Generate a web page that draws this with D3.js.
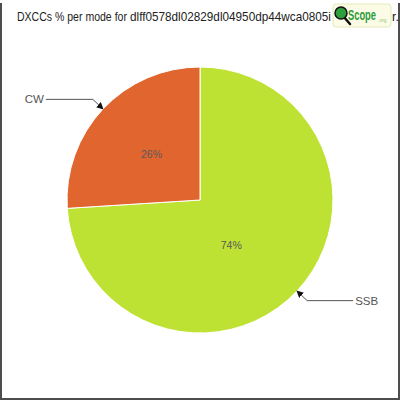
<!DOCTYPE html>
<html>
<head>
<meta charset="utf-8">
<script src="https://cdn.jsdelivr.net/npm/d3@7"></script>
<style>
  html, body { margin: 0; padding: 0; background: #fff; }
  svg { display: block; }
</style>
</head>
<body>
<div id="chart"></div>
<script>
// chart data
const categories = ["SSB", "CW"];
const values = [74, 26];
const colors = ["#bee233", "#e1652f"];
const titleStart = "DXCCs % per mode for";
const titleId = "dlff0578dl02829dl04950dp44wca0805i";
const titleTail = "r.";

const width = 400, height = 400;
const cx = 200, cy = 200, radius = 133;
const font = "'Liberation Sans', 'DejaVu Sans', sans-serif";

const svg = d3.select('#chart').append('svg')
  .attr('width', width)
  .attr('height', height);

svg.append('defs').append('marker')
  .attr('id', 'arrow')
  .attr('viewBox', '0 0 10 10')
  .attr('refX', 9).attr('refY', 5)
  .attr('markerWidth', 7).attr('markerHeight', 7)
  .attr('orient', 'auto')
  .append('path')
  .attr('d', 'M0,0 L10,5 L0,10 z')
  .attr('fill', '#111');

// frame (top edge is cut off in the original)
svg.append('path')
  .attr('d', 'M1,3 L1,399 L399,399 L399,3')
  .attr('fill', 'none')
  .attr('stroke', '#4d4d4d')
  .attr('stroke-width', 2);

// squeeze a text horizontally so it fits a given width
function fitText(sel, x, y, w) {
  const natural = sel.node().getComputedTextLength();
  const k = w && natural > w ? w / natural : 1;
  sel.attr('transform', `translate(${x},${y}) scale(${k},1)`);
}

// title, in pieces so it can pass under the logo like the original
const titleParts = [
  { text: titleStart, x: 17, len: 110 },
  { text: titleId, x: 130, len: 201 },
  { text: titleTail, x: 392, len: null }
];
titleParts.forEach(p => {
  const el = svg.append('text')
    .attr('font-family', font)
    .attr('font-size', 12.5)
    .attr('fill', '#222')
    .text(p.text);
  fitText(el, p.x, 21, p.len);
});

const data = categories.map((c, i) => ({ name: c, value: values[i], color: colors[i] }));

const pie = d3.pie().sort(null).value(d => d.value);
const arcs = pie(data);
const arc = d3.arc().innerRadius(0).outerRadius(radius);
const labelArc = d3.arc().innerRadius(0).outerRadius(radius);

const g = svg.append('g').attr('transform', `translate(${cx},${cy})`);

g.selectAll('path.slice')
  .data(arcs)
  .enter().append('path')
  .attr('class', 'slice')
  .attr('d', arc)
  .attr('fill', d => d.data.color)
  .attr('stroke', '#fff')
  .attr('stroke-width', 1);

const total = d3.sum(values);

g.selectAll('text.pct')
  .data(arcs)
  .enter().append('text')
  .attr('class', 'pct')
  .attr('transform', d => {
    const c = labelArc.centroid(d);
    // the big slice's label sits a bit closer to the centre
    const k = d.data.value > 50 ? 0.85 : 1;
    return `translate(${c[0] * k - (k < 1 ? 10 : 0)},${c[1]})`;
  })
  .attr('text-anchor', 'middle')
  .attr('dy', '0.35em')
  .attr('font-family', font)
  .attr('font-size', 10.5)
  .attr('fill', '#5a5a5a')
  .text(d => Math.round(d.data.value / total * 100) + '%');

// callouts
arcs.forEach(d => {
  const mid = (d.startAngle + d.endAngle) / 2;
  const sx = Math.sin(mid), sy = -Math.cos(mid);
  const tip = [radius * sx, radius * sy];
  const elbow = [(radius + 14) * sx, (radius + 14) * sy];
  const right = sx > 0;
  const end = [elbow[0] + (right ? 46 : -47), elbow[1]];

  g.append('path')
    .attr('d', `M${end[0]},${end[1]} L${elbow[0]},${elbow[1]} L${tip[0]},${tip[1]}`)
    .attr('fill', 'none')
    .attr('stroke', '#555')
    .attr('stroke-width', 1)
    .attr('marker-end', 'url(#arrow)');

  g.append('text')
    .attr('x', end[0] + (right ? 2 : -2))
    .attr('y', end[1])
    .attr('dy', '0.35em')
    .attr('text-anchor', right ? 'start' : 'end')
    .attr('font-family', font)
    .attr('font-size', 11.5)
    .attr('fill', '#555')
    .text(d.data.name);
});

// logo
const logo = svg.append('g').attr('transform', 'translate(333,4)');
logo.append('rect')
  .attr('width', 58).attr('height', 23).attr('rx', 3)
  .attr('fill', '#fbfbe6').attr('stroke', '#e4ebbb');
logo.append('line')
  .attr('x1', 10).attr('y1', 12).attr('x2', 17).attr('y2', 20)
  .attr('stroke', '#111').attr('stroke-width', 2.5).attr('stroke-linecap', 'round');
logo.append('circle')
  .attr('cx', 8).attr('cy', 9).attr('r', 6)
  .attr('fill', '#2f9e3d').attr('stroke', '#111').attr('stroke-width', 1.5);
const scope = logo.append('text')
  .attr('font-family', font)
  .attr('font-weight', 'bold')
  .attr('font-size', 15)
  .attr('fill', '#2d9b3b')
  .text('Scope');
fitText(scope, 15, 16, 28);
logo.append('text')
  .attr('x', 45).attr('y', 18)
  .attr('font-family', font)
  .attr('font-size', 5)
  .attr('fill', '#9fc77f')
  .text('.org');
</script>
</body>
</html>
